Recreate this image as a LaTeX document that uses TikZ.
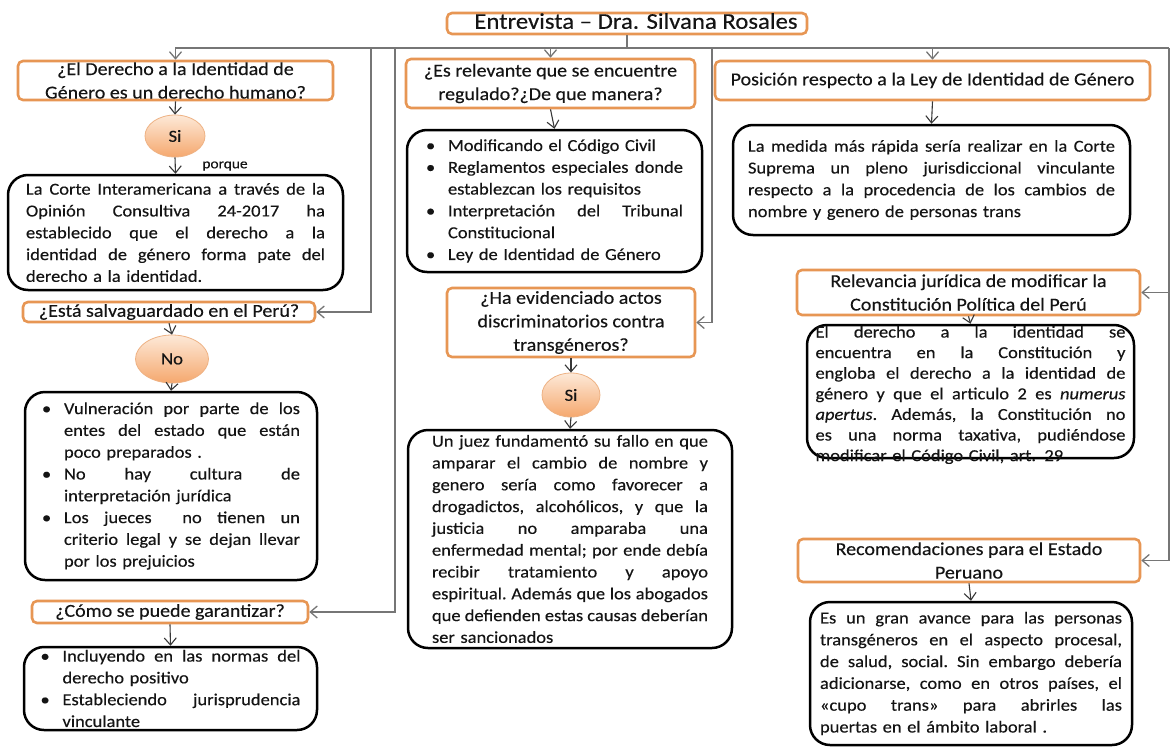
\documentclass[tikz,border=0pt]{standalone}
\usepackage{fontspec}
\setmainfont{Carlito}[FakeStretch=1.1,FakeBold=0.3]
\usetikzlibrary{arrows.meta,shapes.geometric}
\definecolor{qor}{RGB}{231,150,84}
\definecolor{eltop}{RGB}{253,233,216}
\definecolor{elbot}{RGB}{245,168,110}
\definecolor{elb}{RGB}{238,178,132}
\definecolor{lgray}{RGB}{118,118,118}
\definecolor{dgray}{RGB}{55,55,55}
\definecolor{txt}{RGB}{20,20,20}
\newlength\bind
\setlength\bind{22pt}
\newlength\tw
\newcommand\jsp{\frenchspacing\spaceskip=\fontdimen2\font plus 1fil minus \fontdimen4\font\relax}
\newcommand\JL[1]{\leavevmode\hbox to\tw{\jsp #1}}
\newcommand\BJ[1]{\leavevmode\hbox to\tw{\hbox to\bind{\textbullet\hss}\jsp #1}}
\newcommand\BL[1]{\leavevmode\hbox to\bind{\textbullet\hss}#1}
\newcommand\CJ[1]{\leavevmode\hbox to\tw{\hskip\bind\jsp #1}}
\newcommand\CL[1]{\leavevmode\hspace*{\bind}#1}
\newcommand\bodyfont{\fontsize{16.8}{21.8}\selectfont}
\newcommand\qfont{\fontsize{18.2}{23.5}\selectfont}
\begin{document}
\begin{tikzpicture}[x=1pt,y=-1pt,
  qbox/.style={draw=qor, line width=2.6pt, rounded corners=5pt, fill=white, align=center, inner xsep=1pt, inner ysep=0pt, font=\qfont, text=txt},
  qone/.style={qbox, text height=13.5pt, text depth=4pt},
  tbox/.style={draw=black, line width=2.5pt, rounded corners=20pt, fill=white, align=left, inner xsep=1pt, inner ysep=1pt, font=\bodyfont, text=txt},
  tw/.style={text width=#1, execute at begin node={\setlength\tw{#1}}},
  ell/.style={ellipse, draw=elb, line width=0.8pt, top color=eltop, bottom color=elbot, inner sep=0pt, font=\fontsize{17}{20}\selectfont, text=txt},
  conn/.style={draw=lgray, line width=1.3pt},
  arr/.style={draw=dgray, line width=1.1pt, -{Straight Barb[length=7pt,width=12pt]}},
  garr/.style={draw=lgray, line width=1.3pt, -{Straight Barb[length=7pt,width=12pt]}}
]
\path[use as bounding box, fill=white] (0,0) rectangle (1172,747);

% title
\node[qbox, font=\fontsize{22.5}{26}\selectfont, minimum width=360pt, minimum height=21pt, text height=14.5pt, text depth=4pt, inner ysep=0pt] (title) at (627,23.5) {\hspace*{18pt}Entrevista – Dra. Silvana Rosales};

% left column
\node[qbox, minimum width=315pt, minimum height=39pt] (q1) at (175.5,80.5) {¿El Derecho a la Identidad de\\Género es un derecho humano?};
\node[ell, minimum width=60pt, minimum height=42pt] (si1) at (175,136) {Si};
\node[font=\fontsize{14}{16}\selectfont, text=txt, inner sep=0pt] (porque) at (225,166) {porque};
\node[tbox, minimum width=335pt, minimum height=115pt, tw=299pt] (b1) at (175.5,232.5) {%
\JL{La Corte Interamericana a través de la}\\
\JL{Opinión Consultiva 24-2017 ha}\\
\JL{establecido que el derecho a la}\\
\JL{identidad de género forma pate del}\\
derecho a la identidad.};
\node[qone, minimum width=292pt, minimum height=20pt] (qsalv) at (169,312) {¿Está salvaguardado en el Perú?};
\node[ell, minimum width=73pt, minimum height=48pt] (no) at (172,359) {No};
\node[tbox, minimum width=292pt, minimum height=188pt, tw=258pt, inner ysep=-2pt] (b2) at (171,486) {%
\BJ{Vulneración por parte de los}\\
\CJ{entes del estado que están}\\
\CL{poco preparados .}\\
\BJ{No hay cultura de}\\
\CL{interpretación jurídica}\\
\BJ{Los jueces\ \ no tienen un}\\
\CJ{criterio legal y se dejan llevar}\\
\CL{por los prejuicios}};
\node[qone, minimum width=276pt, minimum height=22pt] (qcomo) at (170,612) {¿Cómo se puede garantizar?};
\node[tbox, minimum width=293pt, minimum height=83pt, tw=260pt, inner ysep=-2pt] (b3) at (170.5,688.5) {%
\BJ{Incluyendo en las normas del}\\
\CL{derecho positivo}\\
\BJ{Estableciendo jurisprudencia}\\
\CL{vinculante}};

% middle column
\node[qbox, minimum width=289pt, minimum height=49pt] (q2) at (550.5,83.5) {¿Es relevante que se encuentre\\regulado?¿De que manera?};
\node[tbox, minimum width=295pt, minimum height=142pt, tw=257pt] (b4) at (554.5,201) {%
\BL{Modificando el Código Civil}\\
\BJ{Reglamentos especiales donde}\\
\CL{establezcan los requisitos}\\
\BJ{Interpretación del Tribunal}\\
\CL{Constitucional}\\
\BL{Ley de Identidad de Género}};
\node[qbox, minimum width=248pt, minimum height=69pt] (qha) at (571,322.5) {¿Ha evidenciado actos\\discriminatorios contra\\transgéneros?};
\node[ell, minimum width=58pt, minimum height=44pt] (si2) at (571,395) {Si};
\node[tbox, minimum width=324pt, minimum height=218pt, tw=276pt] (b5) at (570,539) {%
\JL{Un juez fundamentó su fallo en que}\\
\JL{amparar el cambio de nombre y}\\
\JL{genero sería como favorecer a}\\
\JL{drogadictos, alcohólicos, y que la}\\
\JL{justicia no amparaba una}\\
\JL{enfermedad mental; por ende debía}\\
\JL{recibir tratamiento y apoyo}\\
\JL{espiritual. Además que los abogados}\\
\JL{que defienden estas causas deberían}\\
ser sancionados};

% right column
\node[qone, minimum width=435pt, minimum height=39pt] (q3) at (932.5,80.5) {Posición respecto a la Ley de Identidad de Género};
\node[tbox, minimum width=397pt, minimum height=110pt, tw=367pt] (b6) at (931.5,180) {%
\JL{La medida más rápida sería realizar en la Corte}\\
\JL{Suprema un pleno jurisdiccional vinculante}\\
\JL{respecto a la procedencia de los cambios de}\\
nombre y genero de personas trans};
\node[qbox, minimum width=343pt, minimum height=45pt] (relev) at (968.5,292.5) {Relevancia jurídica de modificar la\\Constitución Política del Perú};
\node[tbox, font=\fontsize{16.8}{20.6}\selectfont, minimum width=327pt, tw=310pt, inner ysep=0pt, text height=12.5pt, text depth=120.5pt] (b7) at (970.5,391.5) {%
\JL{El derecho a la identidad se}\\
\JL{encuentra en la Constitución y}\\
\JL{engloba el derecho a la identidad de}\\
\JL{género y que el articulo 2 es \textit{numerus}}\\
\JL{\textit{apertus}. Además, la Constitución no}\\
\JL{es una norma taxativa, pudiéndose}\\
modificar el Código Civil, art. 29};
\node[qbox, minimum width=342pt, minimum height=43pt] (recom) at (969,560.5) {Recomendaciones para el Estado\\Peruano};
\node[tbox, minimum width=322pt, minimum height=143pt, tw=302pt] (b8) at (971,673.5) {%
\JL{Es un gran avance para las personas}\\
\JL{transgéneros en el aspecto procesal,}\\
\JL{de salud, social. Sin embargo debería}\\
\JL{adicionarse, como en otros países, el}\\
\JL{«cupo trans» para abrirles las}\\
puertas en el ámbito laboral .};

% bus
\coordinate (busL) at (175,48);
\coordinate (busR) at (1169,48);
\coordinate (v1) at (371,48);
\coordinate (v2) at (395,48);
\coordinate (v3) at (712,48);
\draw[conn] (title.south) -- (title.south |- busL);
\draw[conn] (busL) -- (busR);
\draw[garr] (q1.north |- busL) -- (q1.north);
\draw[garr] (q2.north |- busL) -- (q2.north);
\draw[garr] (q3.north |- busL) -- (q3.north);
\draw[garr] (v1) |- (qsalv.east);
\draw[garr] (v2) |- (qcomo.east);
\draw[garr] (v3) |- (qha.east);
\draw[garr] (busR) |- (relev.east);
\draw[garr] (busR) |- (recom.east);

% vertical arrows
\draw[arr] (q1.south) -- (si1.north);
\draw[arr] (si1.south) -- (b1.north);
\draw[arr] (qsalv.south) -- (no.north);
\draw[arr] (no.south) -- (b2.north);
\draw[arr] (qcomo.south) -- (b3.north);
\draw[arr] (q2.south) -- (b4.north);
\draw[arr] (qha.south) -- (si2.north);
\draw[arr] (si2.south) -- (b5.north);
\draw[arr] (q3.south) -- (b6.north);
\draw[arr] (relev.south) -- (b7.north);
\draw[arr] (recom.south) -- (b8.north);
\end{tikzpicture}
\end{document}
